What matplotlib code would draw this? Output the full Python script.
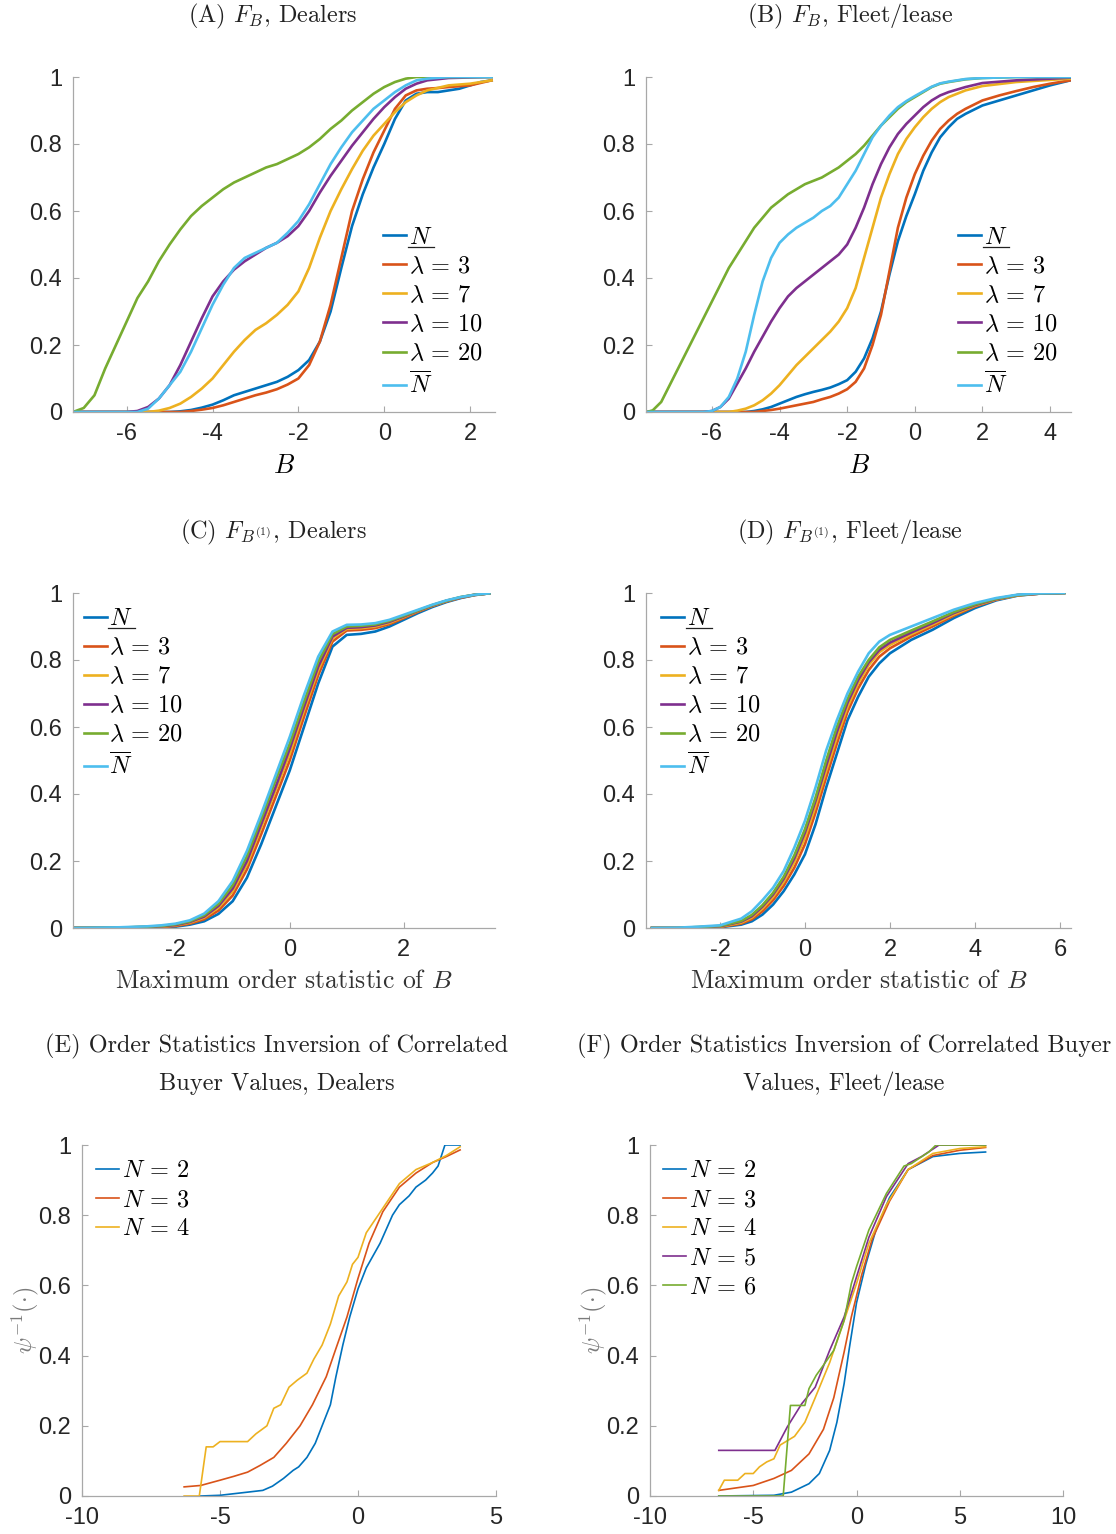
import matplotlib
matplotlib.use('Agg')
import matplotlib.pyplot as plt
from matplotlib.lines import Line2D

plt.rcParams['mathtext.fontset'] = 'cm'
plt.rcParams['axes.unicode_minus'] = False
plt.rcParams['font.family'] = ['Liberation Sans', 'DejaVu Sans']

# ---------------- DATA ----------------
cdf_labels = [r'$N$', r'$\lambda\,=\,3$', r'$\lambda\,=\,7$', r'$\lambda\,=\,10$', r'$\lambda\,=\,20$', r'$\overline{N}$']
inv_labels_E = [r'$N\,=\,2$', r'$N\,=\,3$', r'$N\,=\,4$']
inv_labels_F = [r'$N\,=\,2$', r'$N\,=\,3$', r'$N\,=\,4$', r'$N\,=\,5$', r'$N\,=\,6$']
y_ticks = [0, 0.2, 0.4, 0.6, 0.8, 1]
y_ticklabels = ['0', '0.2', '0.4', '0.6', '0.8', '1']

# Panel A: F_B, Dealers
A_x_N = [-7.25, -5.0, -4.75, -4.5, -4.25, -4.0, -3.75, -3.5, -3.25, -3.0, -2.75, -2.5, -2.25, -2.0, -1.75, -1.5, -1.25, -1.0, -0.75, -0.5, -0.25, 0.0, 0.25, 0.5, 0.75, 1.0, 1.25, 1.5, 1.75, 2.0, 2.25, 2.5]
A_y_N = [0.0, 0.0, 0.002, 0.006, 0.013, 0.022, 0.035, 0.05, 0.06, 0.07, 0.08, 0.09, 0.105, 0.125, 0.155, 0.21, 0.30, 0.43, 0.555, 0.65, 0.73, 0.80, 0.875, 0.93, 0.95, 0.955, 0.955, 0.96, 0.965, 0.975, 0.985, 0.99]
A_x_l3 = [-7.25, -4.75, -4.5, -4.25, -4.0, -3.75, -3.5, -3.25, -3.0, -2.75, -2.5, -2.25, -2.0, -1.75, -1.5, -1.25, -1.0, -0.75, -0.5, -0.25, 0.0, 0.25, 0.5, 0.75, 1.0, 1.25, 1.5, 2.0, 2.5]
A_y_l3 = [0.0, 0.0, 0.003, 0.007, 0.012, 0.02, 0.03, 0.04, 0.05, 0.058, 0.068, 0.082, 0.10, 0.14, 0.21, 0.32, 0.46, 0.60, 0.695, 0.775, 0.84, 0.905, 0.945, 0.96, 0.965, 0.967, 0.97, 0.975, 0.99]
A_x_l7 = [-7.25, -5.5, -5.25, -5.0, -4.75, -4.5, -4.25, -4.0, -3.75, -3.5, -3.25, -3.0, -2.75, -2.5, -2.25, -2.0, -1.75, -1.5, -1.25, -1.0, -0.75, -0.5, -0.25, 0.0, 0.25, 0.5, 0.75, 1.0, 1.5, 2.0, 2.5]
A_y_l7 = [0.0, 0.0, 0.004, 0.012, 0.025, 0.045, 0.07, 0.10, 0.14, 0.18, 0.215, 0.245, 0.265, 0.29, 0.32, 0.36, 0.43, 0.52, 0.60, 0.665, 0.725, 0.78, 0.825, 0.86, 0.895, 0.925, 0.945, 0.96, 0.975, 0.98, 0.99]
A_x_l10 = [-7.25, -6.0, -5.75, -5.5, -5.25, -5.0, -4.75, -4.5, -4.25, -4.0, -3.75, -3.5, -3.25, -3.0, -2.75, -2.5, -2.25, -2.0, -1.75, -1.5, -1.25, -1.0, -0.75, -0.5, -0.25, 0.0, 0.25, 0.5, 0.75, 1.0, 1.5, 2.5]
A_y_l10 = [0.0, 0.0, 0.003, 0.015, 0.04, 0.08, 0.14, 0.21, 0.28, 0.345, 0.39, 0.425, 0.45, 0.47, 0.49, 0.505, 0.525, 0.555, 0.60, 0.655, 0.705, 0.75, 0.795, 0.835, 0.875, 0.91, 0.94, 0.965, 0.98, 0.99, 0.997, 1.0]
A_x_l20 = [-7.25, -7.0, -6.75, -6.5, -6.25, -6.0, -5.75, -5.5, -5.25, -5.0, -4.75, -4.5, -4.25, -4.0, -3.75, -3.5, -3.25, -3.0, -2.75, -2.5, -2.25, -2.0, -1.75, -1.5, -1.25, -1.0, -0.75, -0.5, -0.25, 0.0, 0.25, 0.5, 0.75, 2.5]
A_y_l20 = [0.0, 0.012, 0.05, 0.13, 0.20, 0.27, 0.34, 0.39, 0.45, 0.50, 0.545, 0.585, 0.615, 0.64, 0.665, 0.685, 0.70, 0.715, 0.73, 0.74, 0.755, 0.77, 0.79, 0.815, 0.845, 0.87, 0.90, 0.925, 0.95, 0.97, 0.985, 0.995, 1.0, 1.0]
A_x_Nbar = [-7.25, -5.75, -5.5, -5.25, -5.0, -4.75, -4.5, -4.25, -4.0, -3.75, -3.5, -3.25, -3.0, -2.75, -2.5, -2.25, -2.0, -1.75, -1.5, -1.25, -1.0, -0.75, -0.5, -0.25, 0.0, 0.25, 0.5, 0.75, 1.0, 1.5, 2.5]
A_y_Nbar = [0.0, 0.0, 0.01, 0.04, 0.08, 0.12, 0.18, 0.25, 0.32, 0.38, 0.43, 0.46, 0.475, 0.49, 0.505, 0.535, 0.57, 0.62, 0.68, 0.74, 0.79, 0.835, 0.87, 0.905, 0.93, 0.955, 0.975, 0.99, 0.995, 1.0, 1.0]

# Panel B: F_B, Fleet/lease
B_x_N = [-7.92, -5.0, -4.75, -4.5, -4.25, -4.0, -3.75, -3.5, -3.25, -3.0, -2.75, -2.5, -2.25, -2.0, -1.75, -1.5, -1.25, -1.0, -0.75, -0.5, -0.25, 0.0, 0.25, 0.5, 0.75, 1.0, 1.25, 1.5, 2.0, 2.5, 3.0, 3.5, 4.0, 4.6]
B_y_N = [0.0, 0.0, 0.003, 0.008, 0.015, 0.025, 0.035, 0.045, 0.053, 0.06, 0.066, 0.073, 0.083, 0.095, 0.12, 0.16, 0.22, 0.30, 0.41, 0.51, 0.585, 0.65, 0.72, 0.775, 0.82, 0.85, 0.875, 0.89, 0.915, 0.93, 0.945, 0.96, 0.975, 0.99]
B_x_l3 = [-7.92, -4.75, -4.5, -4.25, -4.0, -3.75, -3.5, -3.25, -3.0, -2.75, -2.5, -2.25, -2.0, -1.75, -1.5, -1.25, -1.0, -0.75, -0.5, -0.25, 0.0, 0.25, 0.5, 0.75, 1.0, 1.25, 1.5, 2.0, 2.5, 3.0, 3.5, 4.0, 4.6]
B_y_l3 = [0.0, 0.0, 0.003, 0.006, 0.01, 0.015, 0.02, 0.025, 0.03, 0.038, 0.045, 0.055, 0.068, 0.09, 0.13, 0.20, 0.29, 0.42, 0.55, 0.64, 0.71, 0.765, 0.81, 0.845, 0.87, 0.89, 0.905, 0.93, 0.945, 0.958, 0.97, 0.98, 0.99]
B_x_l7 = [-7.92, -5.5, -5.25, -5.0, -4.75, -4.5, -4.25, -4.0, -3.75, -3.5, -3.25, -3.0, -2.75, -2.5, -2.25, -2.0, -1.75, -1.5, -1.25, -1.0, -0.75, -0.5, -0.25, 0.0, 0.25, 0.5, 0.75, 1.0, 1.5, 2.0, 3.0, 4.6]
B_y_l7 = [0.0, 0.0, 0.004, 0.01, 0.02, 0.035, 0.055, 0.08, 0.11, 0.14, 0.165, 0.19, 0.215, 0.24, 0.27, 0.31, 0.37, 0.46, 0.55, 0.64, 0.71, 0.77, 0.815, 0.85, 0.88, 0.905, 0.925, 0.94, 0.96, 0.973, 0.985, 0.995]
B_x_l10 = [-7.92, -6.25, -6.0, -5.75, -5.5, -5.25, -5.0, -4.75, -4.5, -4.25, -4.0, -3.75, -3.5, -3.25, -3.0, -2.75, -2.5, -2.25, -2.0, -1.75, -1.5, -1.25, -1.0, -0.75, -0.5, -0.25, 0.0, 0.25, 0.5, 0.75, 1.0, 1.5, 2.0, 3.0, 4.6]
B_y_l10 = [0.0, 0.0, 0.003, 0.015, 0.04, 0.085, 0.13, 0.18, 0.225, 0.27, 0.31, 0.345, 0.37, 0.39, 0.41, 0.43, 0.45, 0.47, 0.50, 0.55, 0.61, 0.68, 0.74, 0.79, 0.83, 0.86, 0.885, 0.91, 0.93, 0.945, 0.955, 0.97, 0.982, 0.99, 0.998]
B_x_l20 = [-7.92, -7.75, -7.5, -7.25, -7.0, -6.75, -6.5, -6.25, -6.0, -5.75, -5.5, -5.25, -5.0, -4.75, -4.5, -4.25, -4.0, -3.75, -3.5, -3.25, -3.0, -2.75, -2.5, -2.25, -2.0, -1.75, -1.5, -1.25, -1.0, -0.75, -0.5, -0.25, 0.0, 0.25, 0.5, 0.75, 1.0, 1.5, 2.0, 3.0, 4.6]
B_y_l20 = [0.0, 0.005, 0.03, 0.08, 0.13, 0.18, 0.23, 0.28, 0.33, 0.38, 0.43, 0.47, 0.51, 0.55, 0.58, 0.61, 0.63, 0.65, 0.665, 0.68, 0.69, 0.70, 0.715, 0.73, 0.75, 0.77, 0.795, 0.825, 0.855, 0.88, 0.905, 0.925, 0.94, 0.955, 0.97, 0.98, 0.985, 0.993, 0.997, 1.0, 1.0]
B_x_Nbar = [-7.92, -6.25, -6.0, -5.75, -5.5, -5.25, -5.0, -4.75, -4.5, -4.25, -4.0, -3.75, -3.5, -3.25, -3.0, -2.75, -2.5, -2.25, -2.0, -1.75, -1.5, -1.25, -1.0, -0.75, -0.5, -0.25, 0.0, 0.25, 0.5, 0.75, 1.0, 1.5, 2.0, 3.0, 4.6]
B_y_Nbar = [0.0, 0.0, 0.003, 0.015, 0.045, 0.10, 0.18, 0.29, 0.39, 0.46, 0.505, 0.53, 0.55, 0.565, 0.58, 0.60, 0.615, 0.64, 0.68, 0.72, 0.77, 0.82, 0.855, 0.885, 0.91, 0.928, 0.943, 0.957, 0.971, 0.981, 0.986, 0.994, 0.997, 1.0, 1.0]

# Panel C: F_B(1), Dealers
C_x = [-3.8, -3.0, -2.5, -2.25, -2.0, -1.75, -1.5, -1.25, -1.0, -0.75, -0.5, -0.25, 0.0, 0.25, 0.5, 0.75, 1.0, 1.25, 1.5, 1.75, 2.0, 2.25, 2.5, 2.75, 3.0, 3.25, 3.5]
C_y_N = [0.0, 0.0, 0.001, 0.002, 0.004, 0.01, 0.02, 0.042, 0.08, 0.15, 0.25, 0.36, 0.47, 0.60, 0.73, 0.84, 0.875, 0.878, 0.885, 0.90, 0.92, 0.94, 0.958, 0.973, 0.985, 0.994, 0.999]
C_y_l3 = [0.0, 0.0, 0.002, 0.003, 0.006, 0.013, 0.026, 0.052, 0.097, 0.175, 0.28, 0.39, 0.50, 0.63, 0.755, 0.855, 0.888, 0.89, 0.895, 0.907, 0.925, 0.944, 0.961, 0.975, 0.986, 0.994, 0.999]
C_y_l7 = [0.0, 0.001, 0.003, 0.004, 0.008, 0.016, 0.031, 0.061, 0.11, 0.19, 0.30, 0.41, 0.52, 0.65, 0.77, 0.865, 0.893, 0.895, 0.90, 0.911, 0.928, 0.946, 0.962, 0.976, 0.987, 0.995, 0.999]
C_y_l10 = [0.0, 0.001, 0.003, 0.005, 0.009, 0.018, 0.034, 0.066, 0.118, 0.20, 0.31, 0.42, 0.535, 0.66, 0.78, 0.87, 0.896, 0.898, 0.903, 0.914, 0.93, 0.947, 0.963, 0.977, 0.987, 0.995, 0.999]
C_y_l20 = [0.0, 0.001, 0.004, 0.006, 0.011, 0.02, 0.038, 0.072, 0.128, 0.215, 0.325, 0.44, 0.55, 0.675, 0.795, 0.877, 0.90, 0.902, 0.906, 0.917, 0.932, 0.948, 0.964, 0.977, 0.988, 0.995, 0.999]
C_y_Nbar = [0.0, 0.002, 0.005, 0.008, 0.013, 0.023, 0.043, 0.08, 0.14, 0.23, 0.34, 0.455, 0.57, 0.695, 0.81, 0.885, 0.905, 0.906, 0.91, 0.92, 0.935, 0.95, 0.965, 0.978, 0.988, 0.995, 0.999]

# Panel D: F_B(1), Fleet/lease
D_x = [-3.6, -3.0, -2.5, -2.0, -1.5, -1.25, -1.0, -0.75, -0.5, -0.25, 0.0, 0.25, 0.5, 0.75, 1.0, 1.25, 1.5, 1.75, 2.0, 2.5, 3.0, 3.5, 4.0, 4.5, 5.0, 5.5, 6.1]
D_y_N = [0.0, 0.0, 0.001, 0.002, 0.01, 0.02, 0.04, 0.07, 0.11, 0.16, 0.22, 0.31, 0.42, 0.52, 0.62, 0.69, 0.75, 0.79, 0.82, 0.86, 0.89, 0.925, 0.955, 0.978, 0.992, 0.998, 1.0]
D_y_l3 = [0.0, 0.0, 0.002, 0.003, 0.013, 0.026, 0.05, 0.083, 0.126, 0.18, 0.25, 0.345, 0.45, 0.55, 0.645, 0.715, 0.77, 0.81, 0.835, 0.87, 0.90, 0.932, 0.96, 0.98, 0.993, 0.998, 1.0]
D_y_l7 = [0.0, 0.0, 0.002, 0.004, 0.016, 0.031, 0.058, 0.093, 0.138, 0.197, 0.27, 0.365, 0.47, 0.57, 0.66, 0.73, 0.785, 0.823, 0.845, 0.877, 0.906, 0.936, 0.962, 0.981, 0.993, 0.998, 1.0]
D_y_l10 = [0.0, 0.0, 0.002, 0.005, 0.019, 0.035, 0.064, 0.10, 0.147, 0.208, 0.285, 0.38, 0.485, 0.585, 0.672, 0.74, 0.793, 0.83, 0.852, 0.882, 0.91, 0.94, 0.964, 0.982, 0.994, 0.998, 1.0]
D_y_l20 = [0.0, 0.0, 0.003, 0.006, 0.021, 0.039, 0.068, 0.105, 0.153, 0.217, 0.295, 0.39, 0.50, 0.60, 0.683, 0.75, 0.80, 0.838, 0.86, 0.888, 0.915, 0.943, 0.966, 0.983, 0.994, 0.999, 1.0]
D_y_Nbar = [0.0, 0.001, 0.004, 0.008, 0.028, 0.05, 0.083, 0.12, 0.17, 0.24, 0.32, 0.42, 0.53, 0.62, 0.70, 0.765, 0.82, 0.855, 0.875, 0.90, 0.925, 0.95, 0.97, 0.985, 0.995, 0.999, 1.0]

# Panel E: inversion, Dealers
E_x_N2 = [-5.7, -5.0, -4.0, -3.45, -3.1, -2.7, -2.35, -2.15, -1.85, -1.55, -1.3, -1.0, -0.8, -0.55, -0.3, 0.0, 0.3, 0.8, 1.25, 1.5, 1.85, 2.1, 2.45, 2.7, 2.9, 3.15, 3.7]
E_y_N2 = [0.0, 0.002, 0.011, 0.016, 0.028, 0.05, 0.073, 0.083, 0.11, 0.15, 0.2, 0.26, 0.34, 0.43, 0.51, 0.59, 0.65, 0.72, 0.80, 0.83, 0.855, 0.88, 0.90, 0.92, 0.94, 1.0, 1.0]
E_x_N3 = [-6.3, -5.7, -5.0, -4.5, -4.0, -3.55, -3.05, -2.6, -2.1, -1.65, -1.15, -0.8, -0.4, 0.0, 0.4, 0.9, 1.5, 2.1, 2.7, 3.2, 3.7]
E_y_N3 = [0.026, 0.03, 0.045, 0.056, 0.068, 0.087, 0.11, 0.15, 0.2, 0.26, 0.34, 0.42, 0.51, 0.62, 0.72, 0.81, 0.88, 0.92, 0.95, 0.967, 0.986]
E_x_N4 = [-6.3, -5.75, -5.5, -5.25, -5.0, -4.0, -3.7, -3.3, -3.05, -2.8, -2.5, -2.2, -1.85, -1.6, -1.3, -1.0, -0.7, -0.4, -0.2, 0.0, 0.3, 0.9, 1.5, 2.1, 2.7, 3.2, 3.7]
E_y_N4 = [0.0, 0.0, 0.14, 0.14, 0.155, 0.155, 0.177, 0.2, 0.25, 0.26, 0.31, 0.33, 0.35, 0.39, 0.43, 0.49, 0.57, 0.61, 0.66, 0.68, 0.75, 0.82, 0.89, 0.93, 0.95, 0.97, 0.995]

# Panel F: inversion, Fleet/lease
F_x_N2 = [-6.67, -4.0, -3.15, -2.3, -1.8, -1.3, -0.95, -0.6, -0.35, 0.0, 0.45, 0.95, 1.6, 2.5, 3.7, 5.0, 6.25]
F_y_N2 = [0.0, 0.002, 0.011, 0.035, 0.064, 0.13, 0.21, 0.32, 0.42, 0.55, 0.66, 0.76, 0.85, 0.93, 0.967, 0.976, 0.98]
F_x_N3 = [-6.67, -5.0, -4.0, -3.15, -2.3, -1.6, -1.1, -0.6, -0.25, 0.25, 0.75, 1.6, 2.5, 3.7, 5.0, 6.25]
F_y_N3 = [0.016, 0.03, 0.05, 0.073, 0.12, 0.19, 0.28, 0.41, 0.51, 0.63, 0.73, 0.84, 0.93, 0.97, 0.985, 0.993]
F_x_N4 = [-6.67, -6.4, -5.75, -5.4, -5.0, -4.7, -4.35, -4.0, -3.7, -3.0, -2.5, -2.0, -1.3, -0.6, 0.0, 0.6, 1.45, 2.5, 3.7, 5.0, 6.25]
F_y_N4 = [0.016, 0.045, 0.045, 0.064, 0.064, 0.083, 0.097, 0.106, 0.145, 0.17, 0.21, 0.28, 0.38, 0.50, 0.605, 0.72, 0.83, 0.93, 0.976, 0.99, 0.995]
F_x_N5 = [-6.67, -3.95, -3.35, -2.65, -2.0, -1.3, -0.6, 0.0, 0.6, 1.45, 2.5, 3.15, 4.0, 6.25]
F_y_N5 = [0.13, 0.13, 0.197, 0.263, 0.31, 0.415, 0.51, 0.624, 0.737, 0.853, 0.947, 0.967, 1.0, 1.0]
F_x_N6 = [-6.67, -3.55, -3.2, -2.5, -2.3, -1.95, -1.55, -1.1, -0.6, -0.25, 0.0, 0.6, 1.45, 2.3, 2.65, 3.5, 3.85, 6.25]
F_y_N6 = [0.0, 0.0, 0.258, 0.258, 0.306, 0.344, 0.377, 0.415, 0.50, 0.605, 0.653, 0.758, 0.862, 0.94, 0.947, 0.98, 1.0, 1.0]

# ---------------- STYLE ----------------
colors = ['#0072BD', '#D95319', '#EDB120', '#7E2F8E', '#77AC30', '#4DBEEE']
W, H = 1116, 1534
fig = plt.figure(figsize=(W / 100, H / 100), dpi=100)


def axes_px(l, t, r, b):
    return fig.add_axes([l / W, 1 - b / H, (r - l) / W, (b - t) / H])


def style(ax, xlim, xticks):
    ax.set_xlim(*xlim)
    ax.set_ylim(0, 1)
    ax.set_xticks(xticks)
    ax.set_xticklabels([str(t) for t in xticks])
    ax.set_yticks(y_ticks)
    ax.set_yticklabels(y_ticklabels)
    for s in ['top', 'right']:
        ax.spines[s].set_visible(False)
    for s in ['left', 'bottom']:
        ax.spines[s].set_color('#a8a8a8')
        ax.spines[s].set_linewidth(0.9)
    ax.tick_params(direction='in', length=4, width=0.8, color='#a8a8a8',
                   labelsize=17, labelcolor='#262626', pad=8)


def legend(ax, labels, anchor):
    return ax.legend(labels, loc='upper left', bbox_to_anchor=anchor, frameon=False,
                     fontsize=17.5, handlelength=0.95, handletextpad=0.1,
                     labelspacing=0.29, borderpad=0, borderaxespad=0)


axA = axes_px(73, 77, 495, 412)
axB = axes_px(646, 77, 1071, 412)
axC = axes_px(73, 593, 495, 928)
axD = axes_px(646, 593, 1071, 928)
axE = axes_px(82, 1145, 496, 1496)
axF = axes_px(650, 1145, 1063, 1496)

lw_cdf = 1.9
seriesA = [(A_x_N, A_y_N), (A_x_l3, A_y_l3), (A_x_l7, A_y_l7), (A_x_l10, A_y_l10), (A_x_l20, A_y_l20), (A_x_Nbar, A_y_Nbar)]
for (x, y), c in zip(seriesA, colors):
    axA.plot(x, y, color=c, lw=lw_cdf)
seriesB = [(B_x_N, B_y_N), (B_x_l3, B_y_l3), (B_x_l7, B_y_l7), (B_x_l10, B_y_l10), (B_x_l20, B_y_l20), (B_x_Nbar, B_y_Nbar)]
for (x, y), c in zip(seriesB, colors):
    axB.plot(x, y, color=c, lw=lw_cdf)
for y, c in zip([C_y_N, C_y_l3, C_y_l7, C_y_l10, C_y_l20, C_y_Nbar], colors):
    axC.plot(C_x, y, color=c, lw=lw_cdf)
for y, c in zip([D_y_N, D_y_l3, D_y_l7, D_y_l10, D_y_l20, D_y_Nbar], colors):
    axD.plot(D_x, y, color=c, lw=lw_cdf)
for (x, y), c in zip([(E_x_N2, E_y_N2), (E_x_N3, E_y_N3), (E_x_N4, E_y_N4)], colors):
    axE.plot(x, y, color=c, lw=1.2)
for (x, y), c in zip([(F_x_N2, F_y_N2), (F_x_N3, F_y_N3), (F_x_N4, F_y_N4), (F_x_N5, F_y_N5), (F_x_N6, F_y_N6)], colors):
    axF.plot(x, y, color=c, lw=1.2)

style(axA, (-7.25, 2.58), [-6, -4, -2, 0, 2])
style(axB, (-7.95, 4.62), [-6, -4, -2, 0, 2, 4])
style(axC, (-3.8, 3.6), [-2, 0, 2])
style(axD, (-3.74, 6.26), [-2, 0, 2, 4, 6])
style(axE, (-10, 5), [-10, -5, 0, 5])
style(axF, (-10, 10), [-10, -5, 0, 5, 10])

legA = legend(axA, cdf_labels, (0.735, 0.553))
legB = legend(axB, cdf_labels, (0.735, 0.553))
legC = legend(axC, cdf_labels, (0.026, 0.955))
legD = legend(axD, cdf_labels, (0.036, 0.955))
legE = legend(axE, inv_labels_E, (0.034, 0.957))
legF = legend(axF, inv_labels_F, (0.032, 0.957))

# axis labels
for ax in (axA, axB):
    ax.set_xlabel(r'$B$', fontsize=19)
    ax.xaxis.set_label_coords(0.5, -0.124)
for ax in (axC, axD):
    ax.set_xlabel(r'Maximum order statistic of $B$', fontsize=18.5, fontfamily='cmr10', color='#333333')
    ax.xaxis.set_label_coords(0.5, -0.122)
for ax in (axE, axF):
    ax.set_ylabel(r'$\psi^{-1}(\cdot)$', fontsize=17.5, color='#7a7a7a')
    ax.yaxis.set_label_coords(-0.10, 0.5)

# titles
tkw = dict(ha='center', va='baseline', fontsize=17.5, fontfamily='cmr10', color='#222222')
fig.text(273 / W, 1 - 22 / H, r'(A) $F_B$, Dealers', **tkw)
fig.text(850 / W, 1 - 22 / H, r'(B) $F_B$, Fleet/lease', **tkw)
fig.text(273 / W, 1 - 538 / H, r'(C) $F_{B^{(1)}}$, Dealers', **tkw)
fig.text(850 / W, 1 - 538 / H, r'(D) $F_{B^{(1)}}$, Fleet/lease', **tkw)
fig.text(277 / W, 1 - 1052 / H, '(E) Order Statistics Inversion of Correlated', **tkw)
fig.text(277 / W, 1 - 1090 / H, 'Buyer Values, Dealers', **tkw)
fig.text(844 / W, 1 - 1052 / H, '(F) Order Statistics Inversion of Correlated Buyer', **tkw)
fig.text(844 / W, 1 - 1090 / H, 'Values, Fleet/lease', **tkw)

# underline for the lower bound N in the legends
fig.canvas.draw()
renderer = fig.canvas.get_renderer()
for leg in (legA, legB, legC, legD):
    bb = leg.get_texts()[0].get_window_extent(renderer)
    yy = (bb.y0 + 2) / H
    fig.add_artist(Line2D([(bb.x0 - 1) / W, (bb.x1 + 2) / W], [yy, yy], transform=fig.transFigure,
                          color='#222222', lw=0.9))

fig.savefig('out.png', dpi=100)
